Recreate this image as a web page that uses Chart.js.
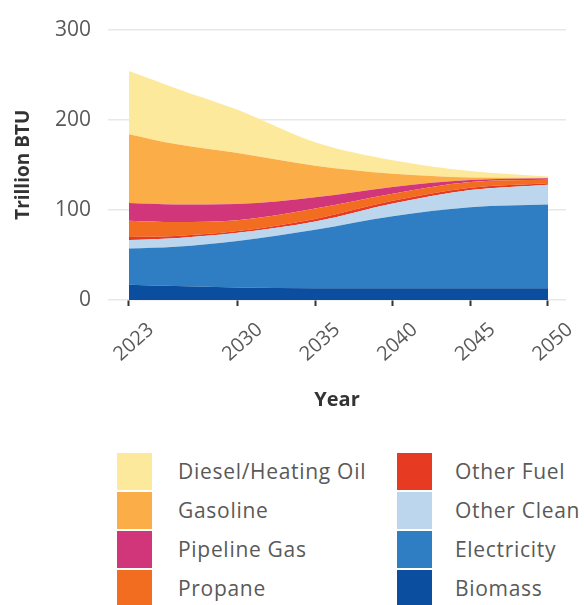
<!DOCTYPE html>
<html>
<head>
<meta charset="utf-8">
<script src="https://cdn.jsdelivr.net/npm/chart.js@4.4.1/dist/chart.umd.min.js"></script>
<style>
  html, body { margin: 0; padding: 0; background: #fff; }
  #wrap { position: relative; width: 584px; height: 605px; overflow: hidden; font-family: "Open Sans", sans-serif; }
  #chartBox { position: absolute; left: 0; top: 0; width: 584px; height: 420px; }
  #legend { position: absolute; left: 0; top: 453px; width: 584px; }
  .col { position: absolute; top: 0; }
  .item { position: relative; height: 39px; }
  .sw { position: absolute; left: 0; top: 0; width: 35px; height: 37px; }
  .lbl { position: absolute; top: 0; line-height: 37px; font-size: 21px; letter-spacing: 0.7px; color: #595959; white-space: nowrap; }
</style>
</head>
<body>
<div id="wrap">
  <div id="chartBox"><canvas id="c" width="584" height="420"></canvas></div>
  <div id="legend"></div>
</div>
<script>
const years = [2023, 2026, 2030, 2035, 2040, 2045, 2050];
const tickYears = [2023, 2030, 2035, 2040, 2045, 2050];
const yTicks = [0, 100, 200, 300];

const biomass     = [17, 15.5, 14, 13, 13, 13, 13];
const electricity = [40, 43.5, 51.5, 65, 80, 90, 93];
const otherClean  = [9.5, 9.5, 9, 9, 14, 19, 22];
const otherFuel   = [3.5, 2.5, 2, 3, 3, 2.5, 1.5];
const propane     = [18, 15.5, 12, 11.5, 8, 6.5, 4];
const pipelineGas = [19.5, 19.5, 18, 12.5, 7.5, 2, 1.5];
const gasoline    = [76.5, 67, 56.5, 35, 14.5, 3, 0.5];
const diesel      = [70, 62, 48, 26, 15, 7, 1.5];

const seriesNames = ["Biomass", "Electricity", "Other Clean", "Other Fuel", "Propane", "Pipeline Gas", "Gasoline", "Diesel/Heating Oil"];
const seriesData = [biomass, electricity, otherClean, otherFuel, propane, pipelineGas, gasoline, diesel];
const seriesColors = ["#0b4e9f", "#2f7ec3", "#bcd6ed", "#e63b22", "#f36d21", "#d1367a", "#fbad47", "#fde99c"];

const datasets = seriesNames.map((name, i) => ({
  label: name,
  data: years.map((yr, j) => ({ x: yr, y: seriesData[i][j] })),
  backgroundColor: seriesColors[i],
  borderColor: seriesColors[i],
  borderWidth: 0,
  pointRadius: 0,
  fill: i === 0 ? 'origin' : '-1',
  cubicInterpolationMode: 'monotone'
}));

const chart = new Chart(document.getElementById('c'), {
  type: 'line',
  data: { datasets },
  options: {
    responsive: false,
    animation: false,
    layout: { padding: { top: 0, right: 18, left: 0, bottom: 8 } },
    plugins: { legend: { display: false }, tooltip: { enabled: false } },
    scales: {
      x: {
        type: 'linear',
        min: 2021.65,
        max: 2051.16,
        afterBuildTicks: (s) => { s.ticks = tickYears.map(v => ({ value: v })); },
        afterFit: (s) => { s.height = 112; },
        grid: { drawOnChartArea: false, drawTicks: true, tickLength: 6, tickColor: '#333', tickWidth: 2 },
        border: { display: false },
        ticks: {
          color: '#595959',
          font: { family: 'Open Sans', size: 20 },
          minRotation: 42, maxRotation: 42,
          labelOffset: 22,
          padding: 12,
          callback: (v) => String(v)
        },
        title: { display: true, text: 'Year', color: '#333', font: { family: 'Open Sans', size: 20, weight: 'bold' }, padding: { top: 4, bottom: 0 } }
      },
      y: {
        stacked: true,
        min: 0, max: 300,
        afterBuildTicks: (s) => { s.ticks = yTicks.map(v => ({ value: v })); },
        afterFit: (s) => { s.width = 108; },
        grid: { color: '#e8e8e8', lineWidth: 1.5, drawTicks: false },
        border: { display: false },
        ticks: { color: '#595959', font: { family: 'Open Sans', size: 21 }, padding: 17 },
        title: { display: true, text: 'Trillion BTU', color: '#333', font: { family: 'Open Sans', size: 19, weight: 'bold' }, padding: { top: 12, bottom: 0 } }
      }
    }
  }
});

// HTML legend built from the chart's datasets (top-of-stack first, two columns)
const legend = document.getElementById('legend');
const order = chart.data.datasets.map((d, i) => i).reverse();
const cols = [
  { idx: order.slice(0, 4), left: 117, text: 61 },
  { idx: order.slice(4), left: 397, text: 58 }
];
cols.forEach((colDef) => {
  const c = document.createElement('div');
  c.className = 'col';
  c.style.left = colDef.left + 'px';
  colDef.idx.forEach(idx => {
    const ds = chart.data.datasets[idx];
    const it = document.createElement('div');
    it.className = 'item';
    const sw = document.createElement('div');
    sw.className = 'sw';
    sw.style.background = ds.backgroundColor;
    const lb = document.createElement('div');
    lb.className = 'lbl';
    lb.style.left = colDef.text + 'px';
    lb.textContent = ds.label;
    it.appendChild(sw); it.appendChild(lb);
    c.appendChild(it);
  });
  legend.appendChild(c);
});
</script>
</body>
</html>
